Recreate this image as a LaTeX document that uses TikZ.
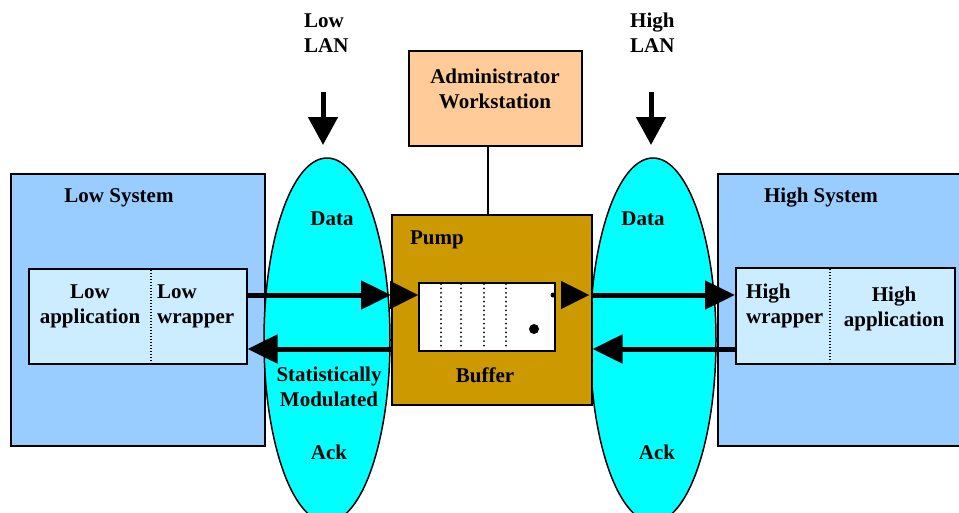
\documentclass[tikz,border=0pt]{standalone}
\usepackage{fontspec}
\setmainfont{Liberation Serif}
\usetikzlibrary{arrows.meta,shapes.geometric}
\definecolor{sysblue}{HTML}{99CCFF}
\definecolor{innerblue}{HTML}{CCECFF}
\definecolor{lancyan}{HTML}{00FFFF}
\definecolor{pumpgold}{HTML}{CC9900}
\definecolor{adminpeach}{HTML}{FFCC99}
\tikzset{
  box/.style={draw=black, line width=1.5pt, inner sep=0pt, anchor=north west},
  lan/.style={ellipse, draw=black, line width=1.5pt, fill=lancyan, inner sep=0pt, minimum width=126pt, minimum height=364pt},
  lbl/.style={font=\fontsize{21}{25}\selectfont\bfseries, inner sep=0pt, align=center, yshift=-2pt},
  bigarrow/.style={line width=5pt, -{Triangle[length=30pt,width=28pt]}},
  headonly/.style={line width=0.1pt, -{Triangle[length=28pt,width=28pt]}},
  dotsep/.style={line width=2pt, line cap=round, dash pattern=on 0pt off 4.4pt},
  thindots/.style={line width=1.2pt, dash pattern=on 1.2pt off 1.8pt}
}
\begin{document}
\begin{tikzpicture}[x=1pt,y=-1pt]
\useasboundingbox (0,0) rectangle (959,512);
\clip (0,0) rectangle (959,512);
% systems
\node[box, fill=sysblue, minimum width=254pt, minimum height=272pt] (lowsys) at (10,173) {};
\node[box, fill=sysblue, minimum width=250pt, minimum height=272pt] (highsys) at (717,173) {};
% LAN ellipses
\node[lan] (lowell) at (327,340) {};
\node[lan] (highell) at (653,340) {};
% pump
\node[box, fill=pumpgold, minimum width=200pt, minimum height=190pt] (pump) at (391,214) {};
\node[box, fill=white, minimum width=136pt, minimum height=68pt] (buffer) at (418,282) {};
\foreach \x in {441,461,484,506}
  \draw[dotsep] (\x,284) -- (\x,348);
\fill (534,329) circle (5pt);
\fill (553,295) circle (2.5pt);
\coordinate (bufout) at (561,295);
\coordinate (bufouttip) at (589,295);
% admin
\node[box, fill=adminpeach, minimum width=173pt, minimum height=95pt] (admin) at (408,50) {};
\draw[line width=1.5pt] (admin.south -| 488,0) -- (pump.north -| 488,0);
% inner boxes
\node[box, fill=innerblue, minimum width=218pt, minimum height=95pt] (lowin) at (28,268) {};
\draw[thindots] (151,270) -- (151,362);
\node[box, fill=innerblue, minimum width=219pt, minimum height=96pt] (highin) at (735,267) {};
\draw[thindots] (830,269) -- (830,362);
% arrows
\draw[bigarrow] (lowin.east |- 0,295) -- (pump.west |- 0,295);
\draw[headonly] (pump.west |- 0,295) -- (buffer.west |- 0,295);
\draw[headonly] (bufout) -- (bufouttip);
\draw[bigarrow] (pump.east |- 0,295) -- (highin.west |- 0,295);
\draw[bigarrow] (pump.west |- 0,349) -- (lowin.east |- 0,349);
\draw[bigarrow] (highin.west |- 0,349) -- (pump.east |- 0,349);
% LAN labels and arrows
\node[lbl, align=left, anchor=west] (lowlan) at (304,31) {Low\\LAN};
\node[lbl, align=left, anchor=west] (highlan) at (630,31) {High\\LAN};
\coordinate (lowlanarr) at (323,92);
\coordinate (highlanarr) at (651,92);
\draw[line width=5pt, -{Triangle[length=28pt,width=29pt]}] (lowlanarr) -- (323,145);
\draw[line width=5pt, -{Triangle[length=28pt,width=29pt]}] (highlanarr) -- (651,145);
% texts
\node[lbl] (lowsyst) at (119,196) {Low System};
\node[lbl] (highsyst) at (821,196) {High System};
\node[lbl] (lowapp) at (90,304) {Low\\application};
\node[lbl, align=left, anchor=west] (lowwrap) at (157,304) {Low\\wrapper};
\node[lbl, align=left, anchor=west] (highwrap) at (746,304) {High\\wrapper};
\node[lbl] (highapp) at (894,307) {High\\application};
\node[lbl] (admint) at (495,87) {Administrator\\Workstation};
\node[lbl] (pumpt) at (437,238) {Pump};
\node[lbl] (buffert) at (485,373) {Buffer};
\node[lbl] (ldata) at (332,217) {Data};
\node[lbl] (hdata) at (643,217) {Data};
\node[lbl] (stat) at (329,385) {Statistically\\Modulated};
\node[lbl] (lack) at (329,450) {Ack};
\node[lbl] (hack) at (657,450) {Ack};
\end{tikzpicture}
\end{document}
